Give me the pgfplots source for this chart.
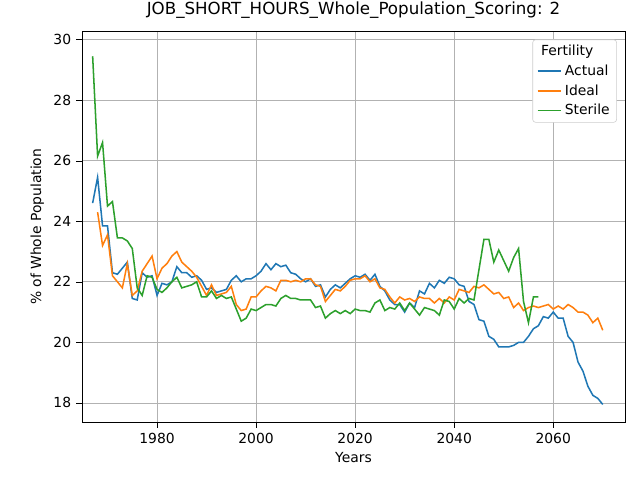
\documentclass[border=0pt]{standalone}
\usepackage{pgfplots}
\pgfplotsset{compat=1.18}
\usepackage{fontspec}
\setmainfont{DejaVu Sans}
\definecolor{c1}{HTML}{1F77B4}
\definecolor{c2}{HTML}{FF7F0E}
\definecolor{c3}{HTML}{2CA02C}
\begin{document}
\begin{tikzpicture}
\useasboundingbox (0,0) rectangle (460.8pt,345.6pt);
\begin{axis}[at={(59.04pt,41.76pt)},anchor=south west,scale only axis,
width=391pt,height=281pt,
xmin=1964.85,xmax=2074.5,ymin=17.37,ymax=30.26,
xtick={1980,2000,2020,2040,2060},ytick={18,20,...,30},
xtick pos=left,ytick pos=left,
grid=major,grid style={gray!60,line width=0.6pt},
tick align=outside,tick style={black},
/pgf/number format/assume math mode=true,
/pgf/number format/1000 sep={},
ticklabel style={font=\fontsize{10}{12}\selectfont},
label style={font=\fontsize{10}{12}\selectfont},
xlabel={Years},ylabel={\% of Whole Population},
title={JOB\_SHORT\_HOURS\_Whole\_Population\_Scoring: 2},
title style={font=\fontsize{12}{14}\selectfont},
legend style={at={(0.985,0.98)},anchor=north east,font=\fontsize{10}{12}\selectfont,draw=gray!40,rounded corners=2pt,row sep=1pt},
legend cell align=left,
every axis plot/.append style={line width=1.1pt},
]
\addlegendimage{empty legend}\addlegendentry{\hspace{-6mm}Fertility}
\addplot[c1] table {
1967 24.6
1968 25.45
1969 23.85
1970 23.85
1971 22.3
1972 22.25
1973 22.45
1974 22.65
1975 21.45
1976 21.4
1977 22.3
1978 22.15
1979 22.2
1980 21.55
1981 21.95
1982 21.9
1983 22.0
1984 22.5
1985 22.3
1986 22.3
1987 22.15
1988 22.2
1989 22.05
1990 21.75
1991 21.8
1992 21.65
1993 21.7
1994 21.75
1995 22.05
1996 22.2
1997 22.0
1998 22.1
1999 22.1
2000 22.2
2001 22.35
2002 22.6
2003 22.4
2004 22.6
2005 22.5
2006 22.55
2007 22.3
2008 22.25
2009 22.1
2010 22.0
2011 22.1
2012 21.85
2013 21.9
2014 21.5
2015 21.75
2016 21.9
2017 21.8
2018 21.95
2019 22.1
2020 22.2
2021 22.15
2022 22.25
2023 22.05
2024 22.25
2025 21.85
2026 21.7
2027 21.4
2028 21.25
2029 21.25
2030 21.0
2031 21.3
2032 21.15
2033 21.7
2034 21.6
2035 21.95
2036 21.8
2037 22.05
2038 21.95
2039 22.15
2040 22.1
2041 21.9
2042 21.85
2043 21.35
2044 21.25
2045 20.75
2046 20.7
2047 20.2
2048 20.1
2049 19.85
2050 19.85
2051 19.85
2052 19.9
2053 20.0
2054 20.0
2055 20.2
2056 20.45
2057 20.55
2058 20.85
2059 20.8
2060 21.0
2061 20.8
2062 20.8
2063 20.2
2064 20.0
2065 19.35
2066 19.05
2067 18.55
2068 18.25
2069 18.15
2070 17.95
};\addlegendentry{Actual}
\addplot[c2] table {
1968 24.3
1969 23.2
1970 23.55
1971 22.2
1972 22.0
1973 21.8
1974 22.6
1975 21.55
1976 21.7
1977 22.35
1978 22.6
1979 22.85
1980 22.1
1981 22.45
1982 22.6
1983 22.85
1984 23.0
1985 22.65
1986 22.5
1987 22.35
1988 22.15
1989 21.85
1990 21.55
1991 21.9
1992 21.55
1993 21.6
1994 21.65
1995 21.85
1996 21.25
1997 21.05
1998 21.1
1999 21.5
2000 21.5
2001 21.7
2002 21.85
2003 21.8
2004 21.7
2005 22.05
2006 22.05
2007 22.0
2008 22.05
2009 22.0
2010 22.1
2011 22.1
2012 21.9
2013 21.85
2014 21.35
2015 21.55
2016 21.75
2017 21.7
2018 21.85
2019 22.05
2020 22.1
2021 22.1
2022 22.2
2023 22.0
2024 22.1
2025 21.8
2026 21.75
2027 21.5
2028 21.3
2029 21.5
2030 21.4
2031 21.45
2032 21.35
2033 21.5
2034 21.45
2035 21.45
2036 21.3
2037 21.45
2038 21.3
2039 21.5
2040 21.4
2041 21.75
2042 21.7
2043 21.65
2044 21.85
2045 21.8
2046 21.9
2047 21.75
2048 21.6
2049 21.65
2050 21.45
2051 21.5
2052 21.15
2053 21.3
2054 21.05
2055 21.15
2056 21.2
2057 21.15
2058 21.2
2059 21.25
2060 21.1
2061 21.2
2062 21.1
2063 21.25
2064 21.15
2065 21.0
2066 21.0
2067 20.9
2068 20.65
2069 20.8
2070 20.4
};\addlegendentry{Ideal}
\addplot[c3] table {
1967 29.45
1968 26.15
1969 26.6
1970 24.5
1971 24.65
1972 23.45
1973 23.45
1974 23.35
1975 23.1
1976 21.8
1977 21.55
1978 22.2
1979 22.15
1980 21.75
1981 21.65
1982 21.8
1983 22.0
1984 22.15
1985 21.8
1986 21.85
1987 21.9
1988 22.0
1989 21.5
1990 21.5
1991 21.7
1992 21.45
1993 21.55
1994 21.45
1995 21.5
1996 21.1
1997 20.7
1998 20.8
1999 21.1
2000 21.05
2001 21.15
2002 21.25
2003 21.25
2004 21.2
2005 21.45
2006 21.55
2007 21.45
2008 21.45
2009 21.4
2010 21.4
2011 21.4
2012 21.15
2013 21.2
2014 20.8
2015 20.95
2016 21.05
2017 20.95
2018 21.05
2019 20.95
2020 21.1
2021 21.05
2022 21.05
2023 21.0
2024 21.3
2025 21.4
2026 21.05
2027 21.15
2028 21.1
2029 21.3
2030 21.05
2031 21.3
2032 21.1
2033 20.9
2034 21.15
2035 21.1
2036 21.05
2037 20.9
2038 21.4
2039 21.35
2040 21.1
2041 21.45
2042 21.3
2043 21.45
2044 21.4
2045 22.4
2046 23.4
2047 23.4
2048 22.65
2049 23.05
2050 22.7
2051 22.35
2052 22.8
2053 23.1
2054 21.35
2055 20.65
2056 21.5
2057 21.5
};\addlegendentry{Sterile}
\end{axis}
\end{tikzpicture}
\end{document}
